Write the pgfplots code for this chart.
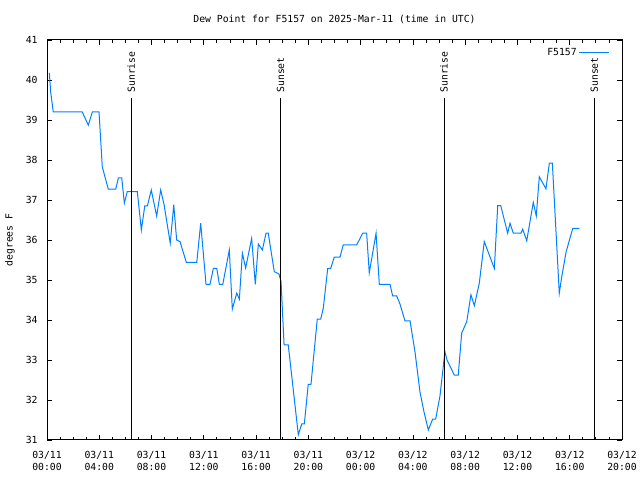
\documentclass[border=0pt]{standalone}
\usepackage{fontspec}
\setmainfont{DejaVu Sans Mono}
\usepackage{pgfplots}
\pgfplotsset{compat=1.18}
\definecolor{dew}{RGB}{0,128,255}
\begin{document}
\fontsize{9.8}{12}\selectfont
\begin{tikzpicture}[x=1bp,y=1bp]
\useasboundingbox (0,0) rectangle (640,480);
\node[font=\fontsize{9.8}{12}\selectfont] at (334.5,461) {Dew Point for F5157 on 2025-Mar-11 (time in UTC)};
\begin{axis}[
  at={(47bp,40bp)}, anchor=south west,
  width=575bp, height=400bp, scale only axis,
  xmin=0, xmax=44, ymin=31, ymax=41,
  xtick={0,4,...,44},
  minor x tick num=3,
  ytick={31,32,...,41},
  xticklabels={{03/11\\00:00},{03/11\\04:00},{03/11\\08:00},{03/11\\12:00},{03/11\\16:00},{03/11\\20:00},{03/12\\00:00},{03/12\\04:00},{03/12\\08:00},{03/12\\12:00},{03/12\\16:00},{03/12\\20:00}},
  xticklabel style={align=center, font=\fontsize{9.8}{12}\selectfont, yshift=-8bp},
  yticklabel style={font=\fontsize{9.8}{12}\selectfont, xshift=-6bp},
  /pgf/number format/assume math mode=true,
  tick align=inside,
  major tick length=5bp, minor tick length=3bp,
  tick style={black, line width=0.8bp},
  axis line style={line width=1bp},
  ylabel={degrees F},
  every axis y label/.style={at={(rel axis cs:0,0.5)}, xshift=-37bp, rotate=90, anchor=center, font=\fontsize{9.8}{12}\selectfont},
  legend style={at={(rel axis cs:0.979,0.985)}, anchor=north east, draw=none, fill=none, inner sep=0pt, font=\fontsize{9.8}{12}\selectfont},
  legend plot pos=right,
  legend image code/.code={\draw[#1] (0bp,0bp) -- (30bp,0bp);},
]
\addplot[dew, line width=1bp] coordinates {
(0.18,40.18) (0.28,39.7) (0.48,39.2) (2.70,39.2) (3.16,38.87) (3.47,39.2) (3.98,39.2)
(4.23,37.83) (4.69,37.27) (5.26,37.27) (5.46,37.55) (5.72,37.55) (5.92,36.92) (6.14,37.21)
(6.91,37.21) (7.22,36.25) (7.48,36.85) (7.68,36.85) (7.98,37.25) (8.39,36.6) (8.70,37.25)
(8.95,36.9) (9.43,35.92) (9.70,36.88) (9.92,36.0) (10.18,35.96) (10.66,35.44) (11.46,35.44)
(11.76,36.42) (12.17,34.89) (12.47,34.89) (12.73,35.29) (12.99,35.29) (13.19,34.89) (13.45,34.89)
(13.95,35.75) (14.18,34.27) (14.52,34.67) (14.72,34.52) (14.95,35.67) (15.20,35.3) (15.66,36.04)
(15.94,34.89) (16.17,35.9) (16.48,35.75) (16.76,36.17) (16.93,36.17) (17.39,35.21) (17.75,35.15)
(17.91,34.96) (18.14,33.38) (18.46,33.38) (19.23,31.13) (19.49,31.4) (19.69,31.4) (19.99,32.39)
(20.20,32.39) (20.68,34.02) (20.94,34.02) (21.14,34.29) (21.48,35.29) (21.71,35.29) (21.98,35.57)
(22.42,35.57) (22.67,35.88) (23.70,35.88) (24.16,36.17) (24.46,36.17) (24.66,35.18) (25.18,36.17)
(25.43,34.89) (26.25,34.89) (26.45,34.6) (26.76,34.6) (27.01,34.4) (27.39,33.98) (27.78,33.98)
(28.16,33.2) (28.54,32.2) (28.85,31.7) (29.18,31.25) (29.51,31.52) (29.74,31.52) (30.07,32.1)
(30.32,32.83) (30.45,33.21) (30.61,33.0) (31.17,32.62) (31.47,32.62) (31.73,33.67) (32.12,33.96)
(32.44,34.63) (32.70,34.36) (33.08,34.92) (33.46,35.96) (34.23,35.29) (34.49,36.86) (34.72,36.86)
(35.25,36.17) (35.43,36.42) (35.68,36.17) (36.27,36.17) (36.40,36.27) (36.71,35.98) (37.21,36.94)
(37.44,36.6) (37.67,37.58) (38.18,37.28) (38.44,37.92) (38.67,37.92) (39.20,34.67) (39.39,35.08)
(39.72,35.7) (40.23,36.29) (40.73,36.29)
};
\addlegendentry{F5157}
\draw[black, line width=1bp] (axis cs:6.45,31) -- (axis cs:6.45,39.55);
\draw[black, line width=1bp] (axis cs:17.88,31) -- (axis cs:17.88,39.55);
\draw[black, line width=1bp] (axis cs:30.38,31) -- (axis cs:30.38,39.55);
\draw[black, line width=1bp] (axis cs:41.88,31) -- (axis cs:41.88,39.55);
\node[rotate=90, anchor=west, inner sep=0pt] at (axis cs:6.45,39.68) {Sunrise};
\node[rotate=90, anchor=west, inner sep=0pt] at (axis cs:17.88,39.68) {Sunset};
\node[rotate=90, anchor=west, inner sep=0pt] at (axis cs:30.38,39.68) {Sunrise};
\node[rotate=90, anchor=west, inner sep=0pt] at (axis cs:41.88,39.68) {Sunset};
\end{axis}
\end{tikzpicture}
\end{document}
